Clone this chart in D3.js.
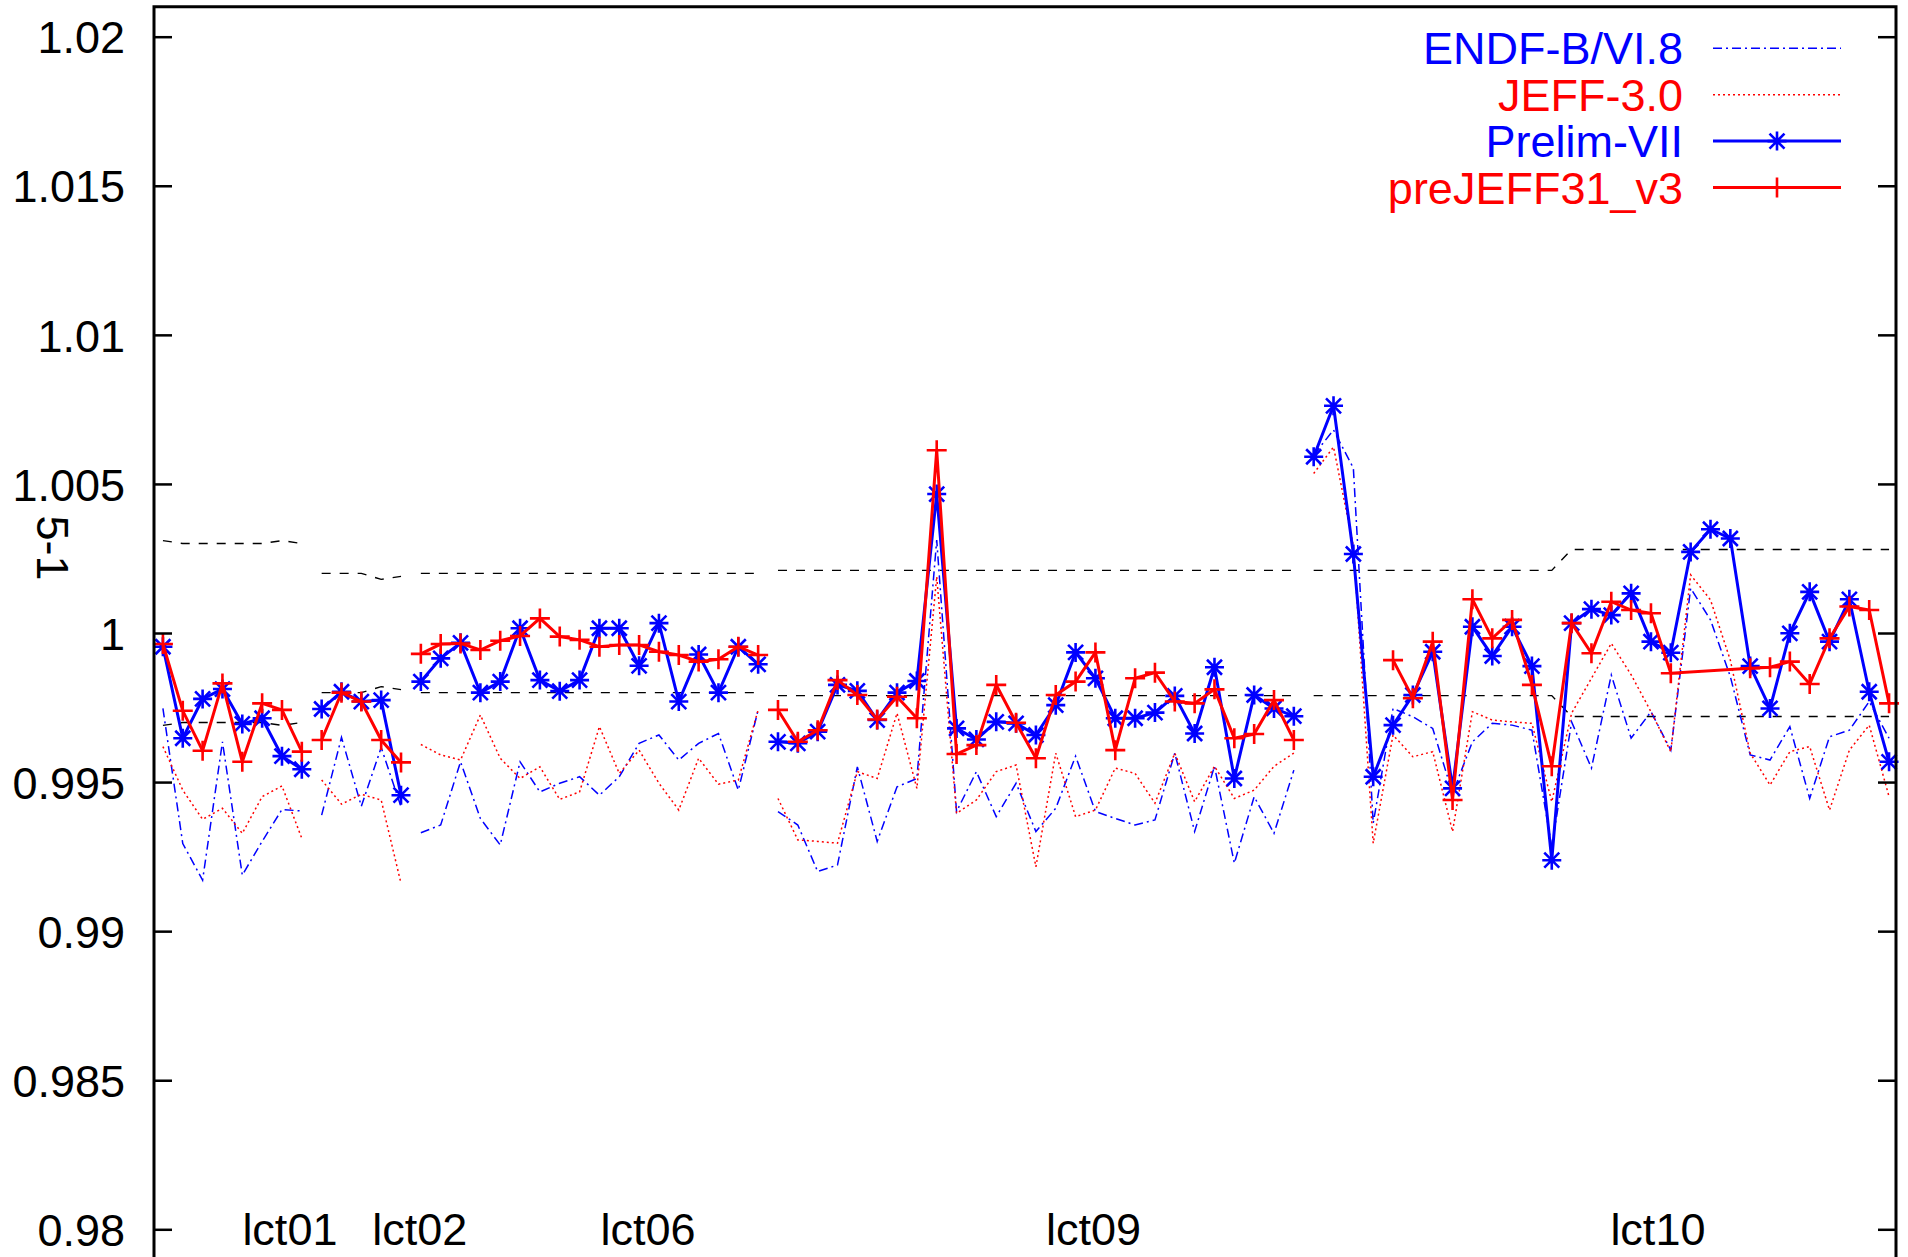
<!DOCTYPE html>
<html>
<head>
<meta charset="utf-8">
<script src="https://cdn.jsdelivr.net/npm/d3@7/dist/d3.min.js"></script>
<style>
  body { margin: 0; background: #fff; }
  svg { display: block; font-family: "Liberation Sans", Arial, sans-serif; }
</style>
</head>
<body>
<div id="chart-area"></div>
<script>
// benchmark cases: first / last point index of each block, and where the name sits on the x axis
var caseNames = ["lct01", "lct02", "lct06", "lct09", "lct10"];
var caseStart = [0, 8, 13, 31, 58];
var caseEnd = [7, 12, 30, 57, 87];
var caseLabelAt = [6.4, 12.95, 24.45, 46.9, 75.35];

var seriesNames = ["ENDF-B/VI.8", "JEFF-3.0", "Prelim-VII", "preJEFF31_v3"];

var endf = [
  0.99747, 0.99294, 0.99171, 0.99635, 0.99188, 0.99301, 0.99408, 0.99403,
  0.99389, 0.99650, 0.99419, 0.99616, 0.99417,
  0.99330, 0.99356, 0.99568, 0.99378, 0.99289, 0.99568, 0.99467, 0.99496, 0.99518,
  0.99456, 0.99518, 0.99630, 0.99658, 0.99574, 0.99630, 0.99663, 0.99473, 0.99742,
  0.99401, 0.99356, 0.99200, 0.99222, 0.99551, 0.99301, 0.99484, 0.99512, 1.00312,
  0.99401, 0.99535, 0.99384, 0.99496, 0.99334, 0.99412, 0.99587, 0.99401, 0.99378,
  0.99356, 0.99373, 0.99597, 0.99334, 0.99553, 0.99228, 0.99451, 0.99328, 0.99540,
  1.00597, 1.00681, 1.00553, 0.99362, 0.99747, 0.99719, 0.99680, 0.99462, 0.99635,
  0.99697, 0.99691, 0.99674, 0.99283, 0.99702, 0.99547, 0.99859, 0.99647, 0.99736,
  0.99607, 1.00150, 1.00044, 0.99854, 0.99591, 0.99574, 0.99686, 0.99445, 0.99652,
  0.99674, 0.99770, 0.99647
];

var jeff30 = [
  0.99619, 0.99473, 0.99375, 0.99412, 0.99328, 0.99451, 0.99487, 0.99311,
  0.99507, 0.99426, 0.99459, 0.99440, 0.99160,
  0.99626, 0.99591, 0.99574, 0.99725, 0.99580, 0.99512, 0.99551, 0.99442, 0.99467,
  0.99686, 0.99529, 0.99607, 0.99496, 0.99406, 0.99580, 0.99493, 0.99507, 0.99742,
  0.99445, 0.99306, 0.99301, 0.99295, 0.99535, 0.99512, 0.99731, 0.99479, 1.00189,
  0.99395, 0.99440, 0.99535, 0.99557, 0.99216, 0.99597, 0.99384, 0.99406, 0.99547,
  0.99529, 0.99429, 0.99597, 0.99434, 0.99553, 0.99445, 0.99473, 0.99553, 0.99597,
  1.00535, 1.00624, 1.00291, 0.99295, 0.99658, 0.99585, 0.99602, 0.99334, 0.99736,
  0.99708, 0.99702, 0.99697, 0.99434, 0.99731, 0.99848, 0.99965, 0.99860, 0.99736,
  0.99602, 1.00195, 1.00111, 0.99909, 0.99597, 0.99490, 0.99602, 0.99619, 0.99406,
  0.99607, 0.99691, 0.99451
];

var prelim = [
  0.99954, 0.99647, 0.99779, 0.99812, 0.99695, 0.99714, 0.99587, 0.99543,
  0.99745, 0.99803, 0.99770, 0.99775, 0.99456,
  0.99837, 0.99915, 0.99967, 0.99800, 0.99837, 1.00016, 0.99842, 0.99805, 0.99842,
  1.00016, 1.00016, 0.99890, 1.00033, 0.99770, 0.99928, 0.99800, 0.99954, 0.99895,
  0.99635, 0.99630, 0.99669, 0.99826, 0.99806, 0.99708, 0.99800, 0.99839, 1.00466,
  0.99680, 0.99643, 0.99702, 0.99697, 0.99658, 0.99758, 0.99935, 0.99848, 0.99714,
  0.99714, 0.99733, 0.99789, 0.99663, 0.99885, 0.99512, 0.99792, 0.99747, 0.99721,
  1.00591, 1.00762, 1.00265, 0.99518, 0.99691, 0.99792, 0.99937, 0.99479, 1.00021,
  0.99923, 1.00021, 0.99889, 0.99238, 1.00033, 1.00080, 1.00060, 1.00133, 0.99971,
  0.99934, 1.00272, 1.00348, 1.00317, 0.99889, 0.99747, 0.99999, 1.00138, 0.99971,
  1.00113, 0.99803, 0.99568
];

var preJeff = [
  0.99963, 0.99739, 0.99605, 0.99831, 0.99568, 0.99764, 0.99742, 0.99602,
  0.99641, 0.99800, 0.99770, 0.99641, 0.99566,
  0.99930, 0.99963, 0.99965, 0.99943, 0.99974, 0.99990, 1.00049, 0.99988, 0.99977,
  0.99954, 0.99960, 0.99960, 0.99937, 0.99926, 0.99904, 0.99912, 0.99954, 0.99926,
  0.99742, 0.99635, 0.99674, 0.99842, 0.99792, 0.99710, 0.99786, 0.99714, 1.00613,
  0.99594, 0.99624, 0.99826, 0.99699, 0.99580, 0.99792, 0.99837, 0.99935, 0.99607,
  0.99848, 0.99867, 0.99770, 0.99764, 0.99811, 0.99647, 0.99661, 0.99775, 0.99641,
  null, null, null, null, 0.99909, 0.99781, 0.99971, 0.99440, 1.00113,
  0.99982, 1.00044, 0.99826, 0.99553, 1.00033, 0.99932, 1.00105, 1.00077, 1.00066,
  0.99865, null, null, null, 0.99882, 0.99885, 0.99904, 0.99829, 0.99982,
  1.00089, 1.00077, 0.99764
];

// experimental uncertainty, drawn as 1 +/- err
var expErr = [
  0.0031, 0.0030, 0.0030, 0.0030, 0.0030, 0.0030, 0.0031, 0.0030,
  0.0020, 0.0020, 0.0020, 0.0018, 0.0019,
  0.0020, 0.0020, 0.0020, 0.0020, 0.0020, 0.0020, 0.0020, 0.0020, 0.0020,
  0.0020, 0.0020, 0.0020, 0.0020, 0.0020, 0.0020, 0.0020, 0.0020, 0.0020,
  0.0021, 0.0021, 0.0021, 0.0021, 0.0021, 0.0021, 0.0021, 0.0021, 0.0021,
  0.0021, 0.0021, 0.0021, 0.0021, 0.0021, 0.0021, 0.0021, 0.0021, 0.0021,
  0.0021, 0.0021, 0.0021, 0.0021, 0.0021, 0.0021, 0.0021, 0.0021, 0.0021,
  0.0021, 0.0021, 0.0021, 0.0021, 0.0021, 0.0021, 0.0021, 0.0021, 0.0021,
  0.0021, 0.0021, 0.0021, 0.0021, 0.0028, 0.0028, 0.0028, 0.0028, 0.0028,
  0.0028, 0.0028, 0.0028, 0.0028, 0.0028, 0.0028, 0.0028, 0.0028, 0.0028,
  0.0028, 0.0028, 0.0028
];

var yTicks = [0.98, 0.985, 0.99, 0.995, 1, 1.005, 1.01, 1.015, 1.02];
var yTickLabels = ["0.98", "0.985", "0.99", "0.995", "1", "1.005", "1.01", "1.015", "1.02"];

var W = 1908, H = 1257;
var plotLeft = 154, plotRight = 1896, plotTop = 6.7;
var fontSize = "45px";

var svg = d3
  .select("#chart-area")
  .append("svg")
  .attr("xmlns", "http://www.w3.org/2000/svg")
  .attr("width", W)
  .attr("height", H);

var x = d3.scaleLinear().domain([-0.45, 87.35]).range([plotLeft, plotRight]);
var y = d3.scaleLinear().domain([0.98, 1.02]).range([1229.3, 36.7]);

var styles = [
  { color: "#0000ff", width: 1.5, dash: "9,4,2,4", marker: null },
  { color: "#ff0000", width: 1.5, dash: "2,3", marker: null },
  { color: "#0000ff", width: 3, dash: null, marker: "star" },
  { color: "#ff0000", width: 3, dash: null, marker: "plus" }
];
var allSeries = [endf, jeff30, prelim, preJeff];

function markerPath(kind) {
  if (kind === "plus") return "M-10,0L10,0M0,-10L0,10";
  return "M-9.5,0L9.5,0M0,-9.5L0,9.5M-7.5,-7.5L7.5,7.5M-7.5,7.5L7.5,-7.5";
}

function blockPoints(values, b) {
  var pts = [];
  for (var i = caseStart[b]; i <= caseEnd[b]; i++) {
    if (values[i] !== null) pts.push({ i: i, v: values[i] });
  }
  return pts;
}

var line = d3
  .line()
  .x(function (d) { return x(d.i); })
  .y(function (d) { return y(d.v); });

/*---- experimental band ---- */
var band = svg.append("g").attr("class", "band");
caseNames.forEach(function (name, b) {
  [1, -1].forEach(function (sign) {
    var pts = [];
    for (var i = caseStart[b]; i <= caseEnd[b]; i++) {
      pts.push({ i: i, v: 1 + sign * expErr[i] });
    }
    band
      .append("path")
      .datum(pts)
      .attr("fill", "none")
      .attr("stroke", "#000")
      .attr("stroke-width", 1.4)
      .attr("stroke-dasharray", "9,9")
      .attr("d", line);
  });
});

/*---- data series ---- */
allSeries.forEach(function (values, s) {
  var st = styles[s];
  var g = svg.append("g").attr("class", "series-" + s);
  caseNames.forEach(function (name, b) {
    var pts = blockPoints(values, b);
    g.append("path")
      .datum(pts)
      .attr("fill", "none")
      .attr("stroke", st.color)
      .attr("stroke-width", st.width)
      .attr("stroke-dasharray", st.dash)
      .attr("stroke-linejoin", "miter")
      .attr("d", line);
    if (st.marker) {
      g.selectAll(null)
        .data(pts)
        .enter()
        .append("path")
        .attr("transform", function (d) {
          return "translate(" + x(d.i) + "," + y(d.v) + ")";
        })
        .attr("d", markerPath(st.marker))
        .attr("fill", "none")
        .attr("stroke", st.color)
        .attr("stroke-width", 2.6);
    }
  });
});

/*---- axes and frame ---- */
var yAxis = d3
  .axisLeft(y)
  .tickValues(yTicks)
  .tickSize(-18)
  .tickPadding(29)
  .tickFormat(function (d, i) { return yTickLabels[i]; });

var gy = svg
  .append("g")
  .attr("transform", "translate(" + plotLeft + ",0)")
  .call(yAxis);
gy.select(".domain").remove();
gy.selectAll("line").attr("stroke", "#000").attr("stroke-width", 2.5);
gy.selectAll("text")
  .attr("font-size", fontSize)
  .attr("font-family", "'Liberation Sans', Arial, sans-serif")
  .attr("fill", "#000")
  .attr("dy", "0.36em");

var gyr = svg
  .append("g")
  .attr("transform", "translate(" + plotRight + ",0)")
  .call(d3.axisRight(y).tickValues(yTicks).tickSize(-18).tickFormat(""));
gyr.select(".domain").remove();
gyr.selectAll("line").attr("stroke", "#000").attr("stroke-width", 2.5);

svg
  .append("path")
  .attr("fill", "none")
  .attr("stroke", "#000")
  .attr("stroke-width", 3)
  .attr(
    "d",
    "M" + plotLeft + "," + (H + 5) +
      "L" + plotLeft + "," + plotTop +
      "L" + plotRight + "," + plotTop +
      "L" + plotRight + "," + (H + 5)
  );

svg
  .selectAll(".case-label")
  .data(caseNames)
  .enter()
  .append("text")
  .attr("class", "case-label")
  .attr("x", function (d, i) { return x(caseLabelAt[i]); })
  .attr("y", y(0.98) + 16)
  .attr("font-size", fontSize)
  .attr("text-anchor", "middle")
  .text(function (d) { return d; });

svg
  .append("text")
  .attr("class", "y-axis-label")
  .attr("transform", "translate(37,548) rotate(90)")
  .attr("font-size", fontSize)
  .attr("text-anchor", "middle")
  .text("5-1");

/*---- legend ---- */
var legendY = [48.3, 94.7, 141.1, 187.5];
var legend = svg.append("g").attr("class", "legend");
seriesNames.forEach(function (name, k) {
  var st = styles[k];
  legend
    .append("text")
    .attr("x", 1683)
    .attr("y", legendY[k] + 16)
    .attr("font-size", fontSize)
    .attr("text-anchor", "end")
    .attr("fill", st.color)
    .text(name);
  legend
    .append("line")
    .attr("x1", 1713)
    .attr("x2", 1841)
    .attr("y1", legendY[k])
    .attr("y2", legendY[k])
    .attr("stroke", st.color)
    .attr("stroke-width", st.width)
    .attr("stroke-dasharray", st.dash);
  if (st.marker) {
    legend
      .append("path")
      .attr("transform", "translate(1777," + legendY[k] + ")")
      .attr("d", markerPath(st.marker))
      .attr("fill", "none")
      .attr("stroke", st.color)
      .attr("stroke-width", 2.6);
  }
});
</script>
</body>
</html>
